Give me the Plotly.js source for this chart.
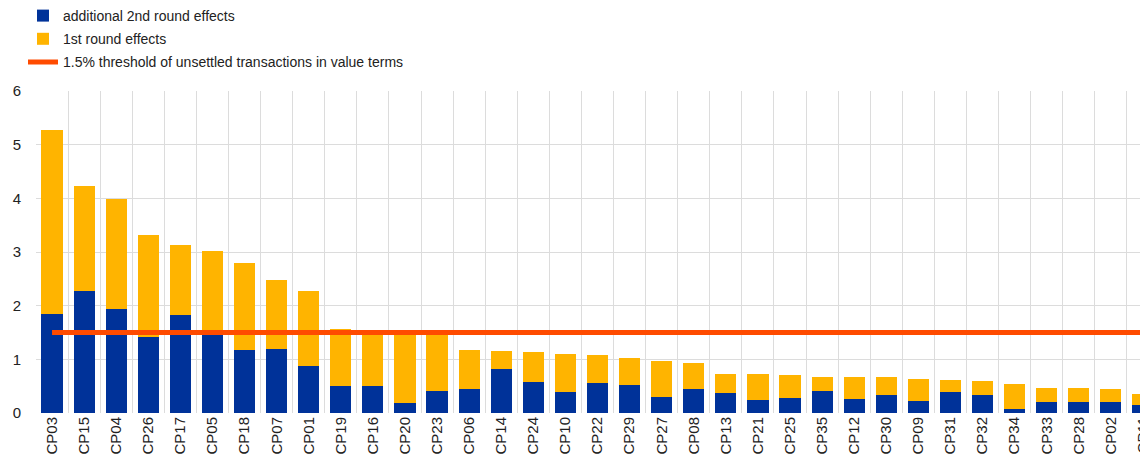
<!DOCTYPE html>
<html>
<head>
<meta charset="utf-8">
<script src="https://cdn.plot.ly/plotly-3.0.1.min.js"></script>
<style>
html,body{margin:0;padding:0;overflow:hidden;background:#fff;width:1140px;height:467px;}
#chart{width:1170px;height:467px;}
</style>
</head>
<body>
<div id="chart"></div>
<script>
const categories = ["CP03","CP15","CP04","CP26","CP17","CP05","CP18","CP07","CP01","CP19","CP16","CP20","CP23","CP06","CP14","CP24","CP10","CP22","CP29","CP27","CP08","CP13","CP21","CP25","CP35","CP12","CP30","CP09","CP31","CP32","CP34","CP33","CP28","CP02","CP11"];
const totalEffects = [5.27,4.23,3.99,3.32,3.13,3.02,2.79,2.48,2.27,1.57,1.54,1.50,1.49,1.18,1.15,1.14,1.10,1.08,1.03,0.96,0.93,0.73,0.72,0.71,0.67,0.67,0.67,0.63,0.62,0.60,0.54,0.47,0.47,0.44,0.35];
const secondRound = [1.85,2.28,1.94,1.41,1.82,1.45,1.18,1.20,0.88,0.51,0.51,0.19,0.41,0.45,0.82,0.58,0.40,0.55,0.52,0.30,0.44,0.38,0.25,0.28,0.41,0.26,0.34,0.23,0.39,0.33,0.08,0.20,0.21,0.20,0.15];
const firstRound = totalEffects.map((t, i) => +(t - secondRound[i]).toFixed(2));
const threshold = categories.map(() => 1.5);

const traces = [
  {type:"bar", name:"additional 2nd round effects", x:categories, y:secondRound,
   marker:{color:"#003299"}, legendgroup:"a"},
  {type:"bar", name:"1st round effects", x:categories, y:firstRound,
   marker:{color:"#FFB400"}, legendgroup:"b"},
  {type:"scatter", mode:"lines", name:"1.5% threshold of unsettled transactions in value terms",
   x:categories, y:threshold, line:{color:"#FF4B00", width:5}, legendgroup:"c"}
];

const layout = {
  width:1170, height:467,
  margin:{l:36, r:10.5, t:91, b:53.5},
  barmode:"stack",
  bargap:0.34,
  paper_bgcolor:"#fff", plot_bgcolor:"#fff",
  font:{family:"Liberation Sans, Arial, sans-serif", color:"#222"},
  showlegend:true,
  legend:{x:-0.0116, xref:"paper", xanchor:"left", y:1.005, yanchor:"top", yref:"container",
          font:{size:14, color:"#222"}, traceorder:"grouped", tracegroupgap:2,
          bgcolor:"rgba(0,0,0,0)", itemwidth:30},
  xaxis:{type:"category", tickson:"boundaries", ticks:"", showgrid:true, gridcolor:"#dcdcdc", gridwidth:1,
         tickangle:-90, tickfont:{size:15, color:"#222"}, showline:false, zeroline:false,
         range:[-0.5, 34.5], fixedrange:true},
  yaxis:{range:[0,6], dtick:1, showgrid:true, gridcolor:"#dcdcdc", gridwidth:1, zeroline:false,
         showline:false, ticks:"", tickfont:{size:15, color:"#222"}, ticklabelstandoff:14, fixedrange:true}
};

Plotly.newPlot("chart", traces, layout, {displayModeBar:false, staticPlot:true});
</script>
</body>
</html>
